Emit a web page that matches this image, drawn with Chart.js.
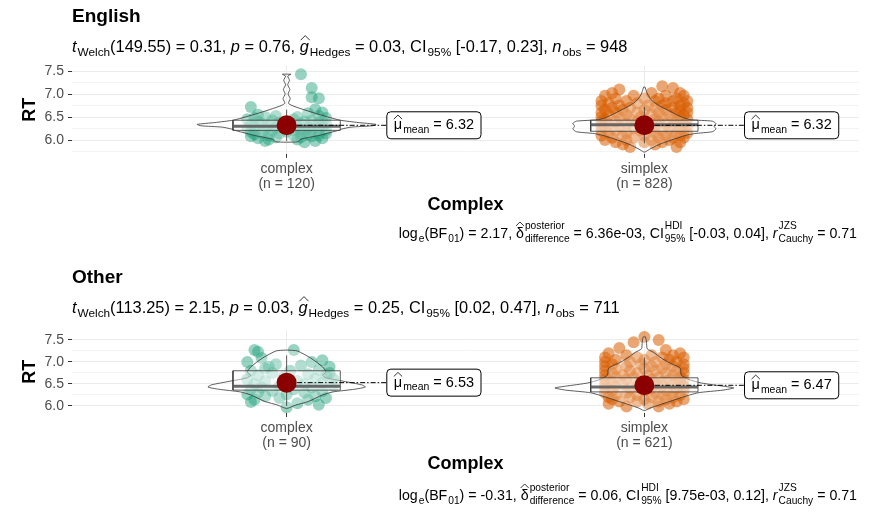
<!DOCTYPE html>
<html>
<head>
<meta charset="utf-8">
<script src="https://cdn.jsdelivr.net/npm/chart.js@4.4.1/dist/chart.umd.min.js"></script>
<style>
  body { margin: 0; background: #fff; }
  canvas { display: block; }
</style>
</head>
<body>
<canvas id="english" width="869" height="261"></canvas>
<canvas id="other" width="869" height="258"></canvas>
<script>
// ---- data ----
var categories = ['complex', 'simplex'];
var engN = [120, 828];
var othN = [90, 621];
var engMeans = [6.32, 6.32];
var othMeans = [6.53, 6.47];

// box stats: [whisker low, q1, median, q3, whisker high]
var engBoxComplex = [5.98, 6.21, 6.30, 6.43, 6.66];
var engBoxSimplex = [5.93, 6.19, 6.33, 6.43, 6.72];
var othBoxComplex = [6.00, 6.36, 6.45, 6.80, 7.15];
var othBoxSimplex = [6.00, 6.32, 6.43, 6.64, 7.10];

// violin outlines: [RT, half width]
var engVioComplex = [[7.43,0.012],[7.39,0.003],[7.30,0.008],[7.20,0.003],[7.10,0.009],[7.00,0.004],[6.90,0.010],[6.80,0.005],[6.75,0.015],[6.68,0.04],[6.58,0.08],[6.50,0.115],[6.43,0.15],[6.38,0.20],[6.34,0.25],[6.31,0.24],[6.28,0.18],[6.24,0.155],[6.20,0.14],[6.10,0.09],[6.02,0.04],[5.96,0.03]];
var engVioSimplex = [[7.15,0.002],[7.05,0.006],[6.95,0.012],[6.85,0.022],[6.75,0.04],[6.65,0.065],[6.55,0.09],[6.48,0.11],[6.44,0.13],[6.41,0.19],[6.36,0.20],[6.30,0.195],[6.24,0.20],[6.18,0.19],[6.14,0.14],[6.10,0.115],[6.00,0.075],[5.90,0.04],[5.80,0.015],[5.74,0.002]];
var othVioComplex = [[7.27,0.004],[7.25,0.03],[7.09,0.067],[6.89,0.10],[6.77,0.11],[6.70,0.10],[6.64,0.11],[6.56,0.16],[6.48,0.21],[6.43,0.22],[6.38,0.19],[6.32,0.13],[6.25,0.10],[6.10,0.06],[6.02,0.025],[5.95,0.004]];
var othVioSimplex = [[7.57,0.003],[7.45,0.006],[7.30,0.008],[7.22,0.025],[7.09,0.047],[6.98,0.07],[6.86,0.10],[6.70,0.103],[6.60,0.125],[6.52,0.16],[6.45,0.22],[6.41,0.25],[6.36,0.22],[6.30,0.15],[6.20,0.107],[6.10,0.07],[6.02,0.04],[5.95,0.015],[5.90,0.003]];

// jittered observations: [RT, jitter, jitter, ...]
var engPtsComplex = [[7.43,0.04],[7.13,0.07],[6.93,0.07],[6.91,0.09],[6.72,-0.10],[6.67,0.08],[6.60,0.10],[6.58,0.06],[6.55,-0.08],[6.52,0.09,-0.03],[6.50,-0.06,0.03],[6.48,-0.09,0.11],[6.45,0.02,-0.11],[6.43,0.07,-0.04],[6.40,-0.08,0.05,0.10],[6.38,-0.02,0.09],[6.36,-0.07,0.04,0.11],[6.34,-0.10,0.01],[6.32,-0.05,0.07],[6.30,-0.09,0.03,0.10],[6.28,-0.03,0.06],[6.26,-0.11,0.0,0.09],[6.24,-0.06,0.04],[6.22,-0.09,0.02,0.11],[6.20,-0.04,0.07],[6.18,-0.10,0.0,0.05],[6.16,-0.07,0.09],[6.14,-0.02,0.04,0.11],[6.12,-0.09,0.06],[6.10,-0.05,0.02,0.09],[6.08,-0.10,0.07],[6.06,-0.03,0.04],[6.04,-0.08,0.10],[6.01,-0.05,0.03],[5.98,0.08,-0.06],[5.95,0.05]];
var engPtsSimplex = [[7.17,0.05],[7.13,0.08],[7.10,-0.07],[7.02,-0.09,0.02,0.10],[6.96,-0.11,-0.03,0.06,0.11],[6.90,-0.08,0.0,0.04,0.09],[6.85,-0.12,-0.05,0.03,0.08,0.12],[6.80,-0.10,-0.02,0.06,0.11],[6.75,-0.12,-0.07,0.01,0.05,0.10],[6.70,-0.09,-0.04,0.03,0.08,0.12],[6.65,-0.11,-0.06,0.0,0.06,0.10],[6.60,-0.12,-0.08,-0.02,0.04,0.09,0.12],[6.55,-0.10,-0.05,0.02,0.07,0.11],[6.50,-0.12,-0.07,-0.01,0.05,0.10],[6.45,-0.11,-0.04,0.03,0.08,0.12],[6.40,-0.12,-0.08,-0.02,0.04,0.09],[6.35,-0.10,-0.05,0.01,0.06,0.11],[6.30,-0.12,-0.07,0.03,0.08,0.12],[6.25,-0.11,-0.03,0.02,0.07,0.10],[6.20,-0.12,-0.08,-0.01,0.05,0.11],[6.15,-0.10,-0.05,0.03,0.09,0.12],[6.10,-0.12,-0.06,0.0,0.06,0.10],[6.05,-0.09,-0.03,0.04,0.08,0.11],[6.00,-0.11,-0.05,0.02,0.07],[5.95,-0.08,0.0,0.05,0.10],[5.90,-0.06,0.03],[5.85,-0.04,0.09]];
var othPtsComplex = [[7.27,-0.09,0.02],[7.23,-0.08],[7.09,-0.07],[7.04,0.10],[7.00,0.07,-0.11],[6.95,-0.03],[6.92,0.04],[6.89,-0.05,0.12],[6.85,-0.06],[6.82,0.09],[6.80,-0.10,0.01],[6.75,-0.04,0.12],[6.72,0.06],[6.70,0.11,-0.08],[6.65,-0.01],[6.62,0.08,0.13],[6.60,-0.11],[6.57,0.03,-0.06],[6.53,0.10],[6.50,-0.09,0.05],[6.46,-0.02,0.13],[6.42,-0.07,0.07],[6.38,-0.10,0.02],[6.34,-0.04,0.10],[6.30,-0.08,0.05],[6.26,-0.11,0.0],[6.22,0.08,-0.06],[6.18,0.11,-0.02],[6.14,0.06,-0.09],[6.09,-0.10],[6.06,0.03],[6.03,0.09],[5.97,0.0]];
var othPtsSimplex = [[7.57,0.0],[7.50,0.04],[7.45,-0.03],[7.32,-0.07],[7.27,0.06],[7.20,0.10,-0.10],[7.15,-0.05,0.02,0.08],[7.10,-0.11,-0.02,0.05,0.11],[7.05,-0.08,0.0,0.07],[7.00,-0.11,-0.04,0.03,0.09],[6.95,-0.09,-0.01,0.06,0.11],[6.90,-0.11,-0.05,0.02,0.08],[6.85,-0.08,0.0,0.05,0.11],[6.80,-0.11,-0.04,0.03,0.09],[6.75,-0.09,-0.02,0.06,0.11],[6.70,-0.11,-0.06,0.01,0.08],[6.65,-0.08,-0.03,0.04,0.10],[6.60,-0.11,-0.05,0.02,0.07,0.11],[6.55,-0.09,-0.01,0.05,0.10],[6.50,-0.11,-0.06,0.03,0.08],[6.45,-0.08,-0.02,0.05,0.11],[6.40,-0.11,-0.04,0.02,0.09],[6.35,-0.09,0.0,0.06,0.11],[6.30,-0.11,-0.05,0.03,0.08],[6.25,-0.08,-0.02,0.05,0.10],[6.20,-0.10,-0.04,0.02,0.08],[6.15,-0.09,0.0,0.06,0.11],[6.10,-0.07,-0.02,0.04,0.09],[6.05,-0.10,0.01,0.07],[5.99,-0.05,0.04]];

var yMajor = [6.0, 6.5, 7.0, 7.5];
var engYMinor = [5.75, 6.25, 6.75, 7.25];
var othYMinor = [6.25, 6.75, 7.25];

var engSubtitle = [
  {t: 't', i: true, sub: 'Welch'}, {t: '(149.55) = 0.31, '}, {t: 'p', i: true}, {t: ' = 0.76, '},
  {t: 'g', i: true, hat: 0.72, sub: 'Hedges'}, {t: ' = 0.03, '}, {t: 'CI', sub: '95%'},
  {t: ' [-0.17, 0.23], '}, {t: 'n', i: true, sub: 'obs'}, {t: ' = 948'}
];
var engCaption = [
  {t: 'log', sub: 'e'}, {t: '(BF', sub: '01'}, {t: ') = 2.17, '},
  {t: 'δ', hat: 0.85, sub: 'difference', sup: 'posterior'}, {t: ' = 6.36e-03, '},
  {t: 'CI', sub: '95%', sup: 'HDI'}, {t: ' [-0.03, 0.04], '},
  {t: 'r', i: true, sub: 'Cauchy', sup: 'JZS'}, {t: ' = 0.71'}
];
var othSubtitle = [
  {t: 't', i: true, sub: 'Welch'}, {t: '(113.25) = 2.15, '}, {t: 'p', i: true}, {t: ' = 0.03, '},
  {t: 'g', i: true, hat: 0.72, sub: 'Hedges'}, {t: ' = 0.25, '}, {t: 'CI', sub: '95%'},
  {t: ' [0.02, 0.47], '}, {t: 'n', i: true, sub: 'obs'}, {t: ' = 711'}
];
var othCaption = [
  {t: 'log', sub: 'e'}, {t: '(BF', sub: '01'}, {t: ') = -0.31, '},
  {t: 'δ', hat: 0.85, sub: 'difference', sup: 'posterior'}, {t: ' = 0.06, '},
  {t: 'CI', sub: '95%', sup: 'HDI'}, {t: ' [9.75e-03, 0.12], '},
  {t: 'r', i: true, sub: 'Cauchy', sup: 'JZS'}, {t: ' = 0.71'}
];

// ---- drawing helpers ----
var FONT = '"Liberation Sans", Arial, sans-serif';
var BOX_HW = 0.15;
var LABEL_DX = 0.28;
var GREEN = 'rgba(27,158,119,0.45)';
var ORANGE = 'rgba(217,95,2,0.55)';

function isMajor(v) { return Math.abs(v * 2 - Math.round(v * 2)) < 1e-6; }

function rowsToPoints(rows, c) {
  var out = [];
  rows.forEach(function (r) {
    for (var k = 1; k < r.length; k++) out.push({x: c + r[k], y: r[0]});
  });
  return out;
}

function violinPath(c, prof) {
  var right = prof.map(function (p) { return {x: c + p[1], y: p[0]}; });
  var left = prof.slice().reverse().map(function (p) { return {x: c - p[1], y: p[0]}; });
  return right.concat(left, [right[0]]);
}

function boxPath(c, b) {
  return [{x: c - BOX_HW, y: b[1]}, {x: c + BOX_HW, y: b[1]}, {x: c + BOX_HW, y: b[3]},
          {x: c - BOX_HW, y: b[3]}, {x: c - BOX_HW, y: b[1]}];
}

function fontFor(size, it) { return (it ? 'italic ' : '') + size + 'px ' + FONT; }

function measureRich(ctx, segs, size) {
  var small = size * 0.72, total = 0;
  segs.forEach(function (s) {
    ctx.font = fontFor(size, s.i);
    s._w = ctx.measureText(s.t).width;
    ctx.font = fontFor(small, false);
    var sw = Math.max(s.sub ? ctx.measureText(s.sub).width : 0, s.sup ? ctx.measureText(s.sup).width : 0);
    s._sw = sw ? sw + 1 : 0;
    total += s._w + s._sw;
  });
  return total;
}

function drawRich(ctx, segs, x, y, size, align) {
  var total = measureRich(ctx, segs, size);
  var cx = align === 'right' ? x - total : x;
  var small = size * 0.72;
  ctx.textAlign = 'left';
  ctx.textBaseline = 'alphabetic';
  ctx.fillStyle = '#000';
  ctx.strokeStyle = '#000';
  segs.forEach(function (s) {
    ctx.font = fontFor(size, s.i);
    ctx.fillText(s.t, cx, y);
    if (s.hat) {
      var hx = cx + s._w / 2 + (s.i ? 1 : 0), hy = y - size * s.hat;
      ctx.beginPath();
      ctx.moveTo(hx - s._w * 0.5, hy);
      ctx.lineTo(hx, hy - size * 0.28);
      ctx.lineTo(hx + s._w * 0.5, hy);
      ctx.lineWidth = 0.8;
      ctx.stroke();
    }
    ctx.font = fontFor(small, false);
    if (s.sub) ctx.fillText(s.sub, cx + s._w + 1, y + size * 0.25);
    if (s.sup) ctx.fillText(s.sup, cx + s._w + 1, y - size * 0.6);
    cx += s._w + s._sw;
  });
}

function makePanel(id, p) {
  var datasets = [];
  [0, 1].forEach(function (g) {
    var c = g + 1, b = p.boxes[g], m = p.means[g];
    datasets.push({data: rowsToPoints(p.points[g], c), backgroundColor: g === 0 ? GREEN : ORANGE,
      borderWidth: 0, pointRadius: 6, order: 6});
    datasets.push({data: violinPath(c, p.violins[g]), showLine: true, fill: 'shape',
      backgroundColor: 'rgba(255,255,255,0.25)', borderColor: '#333', borderWidth: 0.8,
      pointRadius: 0, tension: 0.2, order: 5});
    datasets.push({data: [{x: c, y: b[0]}, {x: c, y: b[4]}], showLine: true,
      borderColor: '#333', borderWidth: 0.8, pointRadius: 0, order: 4});
    datasets.push({data: boxPath(c, b), showLine: true, fill: 'shape',
      backgroundColor: 'rgba(255,255,255,0.45)', borderColor: '#333', borderWidth: 0.8,
      pointRadius: 0, order: 3});
    datasets.push({data: [{x: c - BOX_HW, y: b[2]}, {x: c + BOX_HW, y: b[2]}], showLine: true,
      borderColor: 'rgba(90,90,90,0.9)', borderWidth: 3, pointRadius: 0, order: 2});
    datasets.push({data: [{x: c, y: m}, {x: c + LABEL_DX, y: m}], showLine: true,
      borderColor: '#000', borderWidth: 1, borderDash: [5, 2, 1.5, 2], pointRadius: 0, order: 1});
    datasets.push({data: [{x: c, y: m}], backgroundColor: '#8B0000', borderWidth: 0,
      pointRadius: 10, order: 0});
  });

  var ticks = yMajor.concat(p.minor).sort(function (a, b) { return a - b; });

  var textPlugin = {
    id: 'statsText',
    afterDraw: function (chart) {
      var ctx = chart.ctx, a = chart.chartArea;
      ctx.save();
      ctx.fillStyle = '#000';
      ctx.font = 'bold 19px ' + FONT;
      ctx.textBaseline = 'middle';
      ctx.textAlign = 'left';
      ctx.fillText(p.title, a.left, 17);
      drawRich(ctx, p.subtitle, a.left, 52, 16.4, 'left');
      drawRich(ctx, p.caption, a.right - 2, p.capY, 14.2, 'right');
      p.means.forEach(function (m, g) {
        var x0 = chart.scales.x.getPixelForValue(g + 1 + LABEL_DX);
        var y0 = chart.scales.y.getPixelForValue(m);
        var segs = [{t: 'μ', hat: 0.7, sub: 'mean'}, {t: ' = ' + m.toFixed(2)}];
        var w = measureRich(ctx, segs, 14.5) + 14, h = 27;
        ctx.beginPath();
        ctx.roundRect(x0, y0 - h / 2, w, h, 4);
        ctx.fillStyle = '#fff';
        ctx.fill();
        ctx.lineWidth = 1;
        ctx.strokeStyle = '#000';
        ctx.stroke();
        drawRich(ctx, segs, x0 + 7, y0 + 4, 14.5, 'left');
      });
      ctx.restore();
    }
  };

  return new Chart(document.getElementById(id), {
    type: 'scatter',
    data: {datasets: datasets},
    plugins: [textPlugin],
    options: {
      responsive: false,
      animation: false,
      events: [],
      layout: {padding: {top: p.padTop, left: 0, right: 9, bottom: p.padBottom}},
      plugins: {legend: {display: false}, tooltip: {enabled: false}},
      scales: {
        x: {
          type: 'linear', min: 0.4, max: 2.6,
          afterBuildTicks: function (s) { s.ticks = [{value: 1}, {value: 2}]; },
          afterFit: function (s) { s.height = 62; },
          border: {display: false},
          grid: {color: '#EBEBEB', lineWidth: 1, tickLength: 4, tickColor: '#333'},
          ticks: {
            color: '#4D4D4D', padding: 4, maxRotation: 0, autoSkip: false,
            font: {family: FONT, size: 14, lineHeight: 15 / 14},
            callback: function (v) {
              var i = Math.round(v) - 1;
              return [categories[i], '(n = ' + p.n[i] + ')'];
            }
          },
          title: {display: true, text: 'Complex', color: '#000', padding: {top: 0, bottom: 0},
            font: {family: FONT, size: 18, weight: 'bold', lineHeight: 1.2}}
        },
        y: {
          type: 'linear', min: p.yMin, max: p.yMax,
          afterBuildTicks: function (s) { s.ticks = ticks.map(function (v) { return {value: v}; }); },
          afterFit: function (s) { s.width = 72; },
          border: {display: false},
          grid: {
            color: '#EBEBEB', tickLength: 4,
            lineWidth: function (c) { return c.tick && isMajor(c.tick.value) ? 1 : 0.6; },
            tickColor: function (c) { return c.tick && isMajor(c.tick.value) ? '#333' : 'rgba(0,0,0,0)'; }
          },
          ticks: {
            color: '#4D4D4D', padding: 4, autoSkip: false,
            font: {family: FONT, size: 14},
            callback: function (v) { return isMajor(v) ? v.toFixed(1) : ''; }
          },
          title: {display: true, text: 'RT', color: '#000', padding: {top: 19, bottom: 0},
            font: {family: FONT, size: 18, weight: 'bold', lineHeight: 1.2}}
        }
      }
    }
  });
}

makePanel('english', {
  title: 'English', subtitle: engSubtitle, caption: engCaption, capY: 238,
  n: engN, means: engMeans, boxes: [engBoxComplex, engBoxSimplex],
  violins: [engVioComplex, engVioSimplex], points: [engPtsComplex, engPtsSimplex],
  minor: engYMinor, yMin: 5.7, yMax: 7.62, padTop: 65.5, padBottom: 45.2
});
makePanel('other', {
  title: 'Other', subtitle: othSubtitle, caption: othCaption, capY: 239,
  n: othN, means: othMeans, boxes: [othBoxComplex, othBoxSimplex],
  violins: [othVioComplex, othVioSimplex], points: [othPtsComplex, othPtsSimplex],
  minor: othYMinor, yMin: 5.84, yMax: 7.72, padTop: 69.3, padBottom: 44
});
</script>
</body>
</html>
